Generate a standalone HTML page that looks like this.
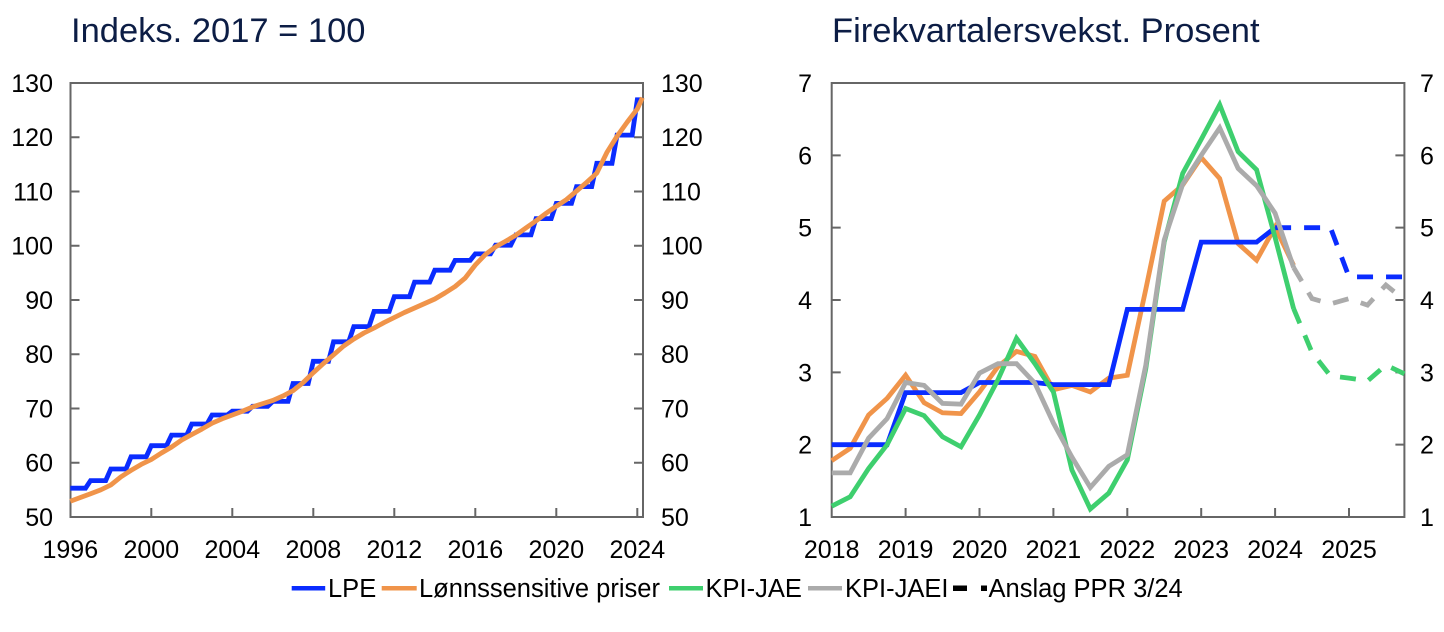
<!DOCTYPE html>
<html><head><meta charset="utf-8"><style>
html,body{margin:0;padding:0;background:#fff;}
svg{display:block;font-family:"Liberation Sans",Arial,sans-serif;}
</style></head><body>
<svg width="1444" height="632" viewBox="0 0 1444 632" xmlns="http://www.w3.org/2000/svg">
<rect width="1444" height="632" fill="#fff"/>
<!-- Titles -->
<text x="71" y="42" font-size="34.5" fill="#0c1d45">Indeks. 2017 = 100</text>
<text x="832" y="42" font-size="34.5" fill="#0c1d45">Firekvartalersvekst. Prosent</text>

<!-- LEFT CHART -->
<g stroke="#666" stroke-width="2" fill="none">
<rect x="70.5" y="83" width="572.5" height="434"/>
<path d="M70.5 462.75h9M70.5 408.5h9M70.5 354.25h9M70.5 300h9M70.5 245.75h9M70.5 191.5h9M70.5 137.25h9"/>
<path d="M643 462.75h-9M643 408.5h-9M643 354.25h-9M643 300h-9M643 245.75h-9M643 191.5h-9M643 137.25h-9"/>
<path d="M151.3 517v-9M232.3 517v-9M313.3 517v-9M394.3 517v-9M475.3 517v-9M556.3 517v-9M637.3 517v-9"/>
</g>
<g font-size="25" fill="#000" text-anchor="end">
<text x="53" y="92">130</text><text x="53" y="146">120</text><text x="53" y="200.5">110</text><text x="53" y="254.5">100</text><text x="53" y="309">90</text><text x="53" y="363">80</text><text x="53" y="417.5">70</text><text x="53" y="471.5">60</text><text x="53" y="526">50</text>
</g>
<g font-size="25" fill="#000" text-anchor="start">
<text x="661" y="92">130</text><text x="661" y="146">120</text><text x="661" y="200.5">110</text><text x="661" y="254.5">100</text><text x="661" y="309">90</text><text x="661" y="363">80</text><text x="661" y="417.5">70</text><text x="661" y="471.5">60</text><text x="661" y="526">50</text>
</g>
<g font-size="25" fill="#000" text-anchor="middle">
<text x="70.3" y="558">1996</text><text x="151.3" y="558">2000</text><text x="232.3" y="558">2004</text><text x="313.3" y="558">2008</text><text x="394.3" y="558">2012</text><text x="475.3" y="558">2016</text><text x="556.3" y="558">2020</text><text x="637.3" y="558">2024</text>
</g>
<!-- LPE stepped -->
<polyline fill="none" stroke="#0a2cff" stroke-width="4.8" points="70.3,488.2 85.5,488.2 90.55,480.6 105.7,480.6 110.8,469 126,469 131.05,456.8 146.2,456.8 151.3,445.7 166.5,445.7 171.55,435.1 186.7,435.1 191.8,424 207,424 212.05,415 227.2,415 232.3,411.2 247.5,411.2 252.55,406.3 267.7,406.3 272.8,401.4 288,401.4 293.05,383.5 308.2,383.5 313.3,361.3 328.5,361.3 333.55,341.8 348.7,341.8 353.8,326.6 369,326.6 374.05,311.4 389.2,311.4 394.3,296.7 409.5,296.7 414.55,282.1 429.7,282.1 434.8,270.2 450,270.2 455.05,260.4 470.2,260.4 475.3,253.9 490.5,253.9 495.55,245.2 510.7,245.2 515.8,234.9 531,234.9 536.05,218.6 551.2,218.6 556.3,203.4 571.5,203.4 576.55,186.6 591.7,186.6 596.8,163.3 612,163.3 617.05,135.1 632.2,135.1 637.3,99.8 642.4,99.8"/>
<!-- Lønnssensitive priser -->
<polyline fill="none" stroke="#f0944a" stroke-width="4.8" stroke-linejoin="round" points="70.3,501.3 80.4,497.5 90.6,493.7 100.7,489.9 110.8,485 120.9,476.9 131.1,470.3 141.2,464.4 151.3,459.5 161.4,453 171.6,447 181.7,440 191.8,434.5 201.9,429.1 212.1,423.2 222.2,418.8 232.3,415 242.4,411.2 252.6,406.9 262.7,403.6 272.8,400.4 282.9,396 293.1,390.6 303.2,382.5 313.3,372.7 323.4,363.5 333.6,354.8 343.7,346 353.8,339 363.9,333 374.1,328 384.2,322.5 394.3,317.5 404.4,312.5 414.6,308 424.7,303.5 434.8,299 444.9,293 455.1,286.5 465.2,278 475.3,265 485.4,254.5 495.6,246.8 505.7,241.2 515.8,235.2 525.9,227.9 536.1,220.8 546.2,213.2 556.3,206.2 566.4,199.6 576.6,191 586.7,182.3 596.8,173.1 606.9,152.4 617.1,136.2 627.2,122.1 637.3,109 642.4,97.7"/>

<!-- RIGHT CHART -->
<g stroke="#666" stroke-width="2" fill="none">
<rect x="831.7" y="83" width="572.7" height="434"/>
<path d="M831.7 444.67h9M831.7 372.33h9M831.7 300h9M831.7 227.67h9M831.7 155.33h9"/>
<path d="M1404.4 444.67h-9M1404.4 372.33h-9M1404.4 300h-9M1404.4 227.67h-9M1404.4 155.33h-9"/>
<path d="M905.6 517v-9M979.5 517v-9M1053.4 517v-9M1127.3 517v-9M1201.2 517v-9M1275.1 517v-9M1349 517v-9"/>
</g>
<g font-size="25" fill="#000" text-anchor="end">
<text x="812" y="92">7</text><text x="812" y="164.3">6</text><text x="812" y="236.7">5</text><text x="812" y="309">4</text><text x="812" y="381.3">3</text><text x="812" y="453.7">2</text><text x="812" y="526">1</text>
</g>
<g font-size="25" fill="#000" text-anchor="start">
<text x="1420" y="92">7</text><text x="1420" y="164.3">6</text><text x="1420" y="236.7">5</text><text x="1420" y="309">4</text><text x="1420" y="381.3">3</text><text x="1420" y="453.7">2</text><text x="1420" y="526">1</text>
</g>
<g font-size="25" fill="#000" text-anchor="middle">
<text x="831.7" y="558">2018</text><text x="905.6" y="558">2019</text><text x="979.5" y="558">2020</text><text x="1053.4" y="558">2021</text><text x="1127.3" y="558">2022</text><text x="1201.2" y="558">2023</text><text x="1275.1" y="558">2024</text><text x="1349" y="558">2025</text>
</g>
<!-- Orange -->
<polyline fill="none" stroke="#f0944a" stroke-width="4.8" points="831.7,460.6 850.2,448.3 868.6,415 887.1,398.4 905.6,375.2 924.1,402.7 942.5,412.8 961,413.6 979.5,391.9 998,366.6 1016.5,351.4 1034.9,356.4 1053.4,389.7 1071.9,385.4 1090.3,391.9 1108.8,378.1 1127.3,375.2 1145.8,289.2 1164.2,201.1 1182.7,185 1201.2,157.5 1219.7,178.5 1238.1,243.6 1256.6,260.2 1275.1,227 1293.6,265.3"/>
<!-- Blue -->
<polyline fill="none" stroke="#0a2cff" stroke-width="4.8" points="831.7,444.7 887.1,444.7 905.6,392.6 961,392.6 979.5,382.5 1034.9,382.5 1053.4,384.6 1108.8,384.6 1127.3,309.4 1182.7,309.4 1201.2,242.1 1256.6,242.1 1275.1,227.7"/>
<polyline fill="none" stroke="#0a2cff" stroke-width="4.8" stroke-dasharray="16 13" points="1275.1,227.7 1330.5,227.7 1349,276.9 1404.4,276.9"/>
<!-- Green -->
<polyline fill="none" stroke="#3ecf6e" stroke-width="4.8" points="831.7,506.2 850.2,496.8 868.6,468.5 887.1,444.7 905.6,408.5 924.1,415.7 942.5,436.7 961,446.8 979.5,415 998,379.6 1016.5,338.3 1034.9,363.7 1053.4,391.9 1071.9,470 1090.3,509 1108.8,493.1 1127.3,459.9 1145.8,368.7 1164.2,242.1 1182.7,173.4 1201.2,139.4 1219.7,104.7 1238.1,151.7 1256.6,169.8 1275.1,237.5 1293.6,308.6"/>
<polyline fill="none" stroke="#3ecf6e" stroke-width="4.8" stroke-dasharray="16 13" points="1293.6,308.6 1312,352.5 1330.5,375.9 1349,378.1 1367.5,381 1385.9,365.1 1404.4,373.8"/>
<!-- Gray -->
<polyline fill="none" stroke="#ababab" stroke-width="4.8" points="831.7,472.9 850.2,472.9 868.6,438.2 887.1,418.6 905.6,382.5 924.1,385.4 942.5,403.4 961,404.2 979.5,373.1 998,363.7 1016.5,363.7 1034.9,383.2 1053.4,423 1071.9,457 1090.3,487.4 1108.8,466.4 1127.3,454.8 1145.8,365.1 1164.2,240 1182.7,184.3 1201.2,155.3 1219.7,127.9 1238.1,168.4 1256.6,185.7 1275.1,213.2 1293.6,267.5"/>
<polyline fill="none" stroke="#ababab" stroke-width="4.8" stroke-dasharray="16 13" points="1293.6,267.5 1312,298.6 1330.5,303.9 1349,298.6 1367.5,305.1 1385.9,285 1404.4,300"/>

<!-- LEGEND -->
<rect x="291.7" y="586" width="33.5" height="4.5" fill="#0a2cff"/>
<text x="328" y="597" font-size="25.5" fill="#000">LPE</text>
<rect x="381.7" y="586" width="35" height="4.5" fill="#f0944a"/>
<text x="419" y="597" font-size="25.5" fill="#000">Lønnssensitive priser</text>
<rect x="669" y="586" width="34" height="4.5" fill="#3ecf6e"/>
<text x="705.5" y="597" font-size="25.5" fill="#000">KPI-JAE</text>
<rect x="808" y="586" width="34" height="4.5" fill="#ababab"/>
<text x="845" y="597" font-size="25.5" fill="#000">KPI-JAEI</text>
<rect x="953" y="585.5" width="14" height="5.5" fill="#000"/>
<rect x="981" y="585.5" width="6" height="5.5" fill="#000"/>
<text x="988.5" y="597" font-size="25.5" fill="#000">Anslag PPR 3/24</text>
</svg>
</body></html>
